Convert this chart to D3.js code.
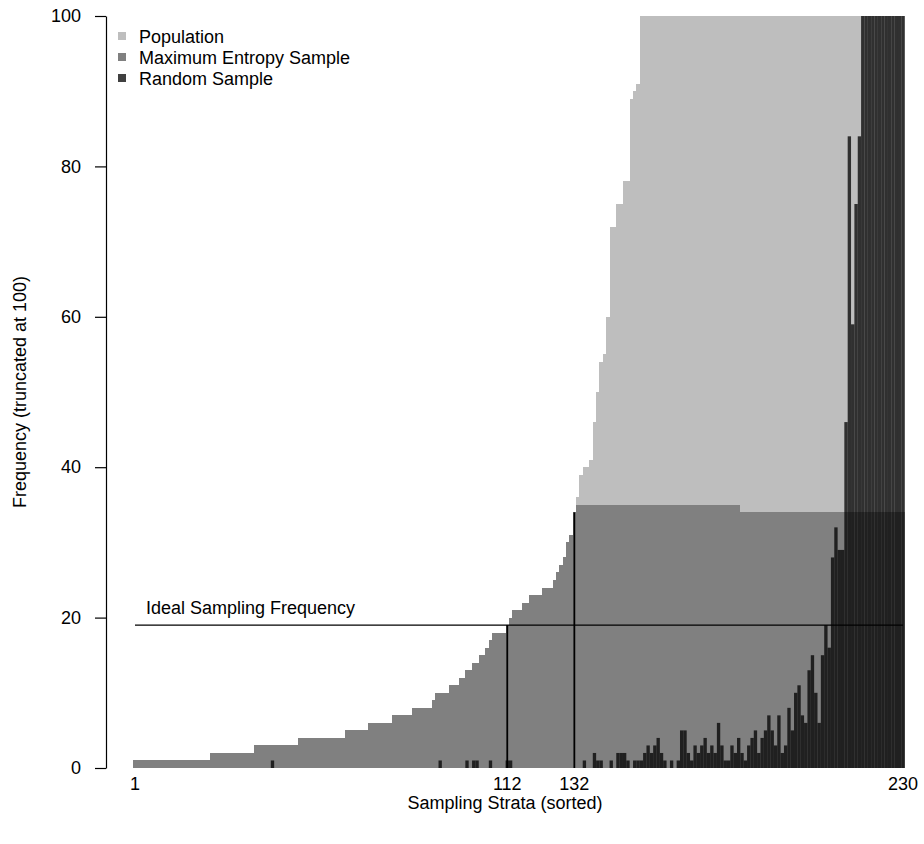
<!DOCTYPE html>
<html>
<head>
<meta charset="utf-8">
<script src="https://cdn.jsdelivr.net/npm/d3@7"></script>
<style>
  html, body { margin: 0; padding: 0; background: #fff; }
  svg { display: block; font-family: "Liberation Sans", Arial, Helvetica, sans-serif; }
</style>
</head>
<body>
<svg id="chart" width="924" height="844"></svg>
<script>
// ---------- data ----------
const strata = d3.range(1, 231);            // sampling strata 1..230 (sorted)

// Population frequency per stratum (truncated at 100)
const population = [
  1,1,1,1,1,1,1,1,1,1,
  1,1,1,1,1,1,1,1,1,1,
  1,1,1,2,2,2,2,2,2,2,
  2,2,2,2,2,2,3,3,3,3,
  3,3,3,3,3,3,3,3,3,4,
  4,4,4,4,4,4,4,4,4,4,
  4,4,4,5,5,5,5,5,5,5,
  6,6,6,6,6,6,6,7,7,7,
  7,7,7,8,8,8,8,8,8,9,
  10,10,10,10,11,11,11,12,12,13,
  13,14,14,15,15,16,17,18,18,18,
  18,19,20,21,21,21,22,22,23,23,
  23,23,24,24,24,25,26,27,28,30,
  31,34,36,39,40,40,41,46,50,54,
  55,60,72,72,75,75,78,78,89,90,
  91,100,100,100,100,100,100,100,100,100,
  100,100,100,100,100,100,100,100,100,100,
  100,100,100,100,100,100,100,100,100,100,
  100,100,100,100,100,100,100,100,100,100,
  100,100,100,100,100,100,100,100,100,100,
  100,100,100,100,100,100,100,100,100,100,
  100,100,100,100,100,100,100,100,100,100,
  100,100,100,100,100,100,100,100,100,100
];

// Maximum entropy sample per stratum
const maxEntropySample = [
  1,1,1,1,1,1,1,1,1,1,
  1,1,1,1,1,1,1,1,1,1,
  1,1,1,2,2,2,2,2,2,2,
  2,2,2,2,2,2,3,3,3,3,
  3,3,3,3,3,3,3,3,3,4,
  4,4,4,4,4,4,4,4,4,4,
  4,4,4,5,5,5,5,5,5,5,
  6,6,6,6,6,6,6,7,7,7,
  7,7,7,8,8,8,8,8,8,9,
  10,10,10,10,11,11,11,12,12,13,
  13,14,14,15,15,16,17,18,18,18,
  18,19,20,21,21,21,22,22,23,23,
  23,23,24,24,24,25,26,27,28,30,
  31,34,35,35,35,35,35,35,35,35,
  35,35,35,35,35,35,35,35,35,35,
  35,35,35,35,35,35,35,35,35,35,
  35,35,35,35,35,35,35,35,35,35,
  35,35,35,35,35,35,35,35,35,35,
  35,34,34,34,34,34,34,34,34,34,
  34,34,34,34,34,34,34,34,34,34,
  34,34,34,34,34,34,34,34,34,34,
  34,34,34,34,34,34,34,34,34,34,
  34,34,34,34,34,34,34,34,34,34
];

// Random sample per stratum (truncated at 100)
const randomSample = [
  0,0,0,0,0,0,0,0,0,0,
  0,0,0,0,0,0,0,0,0,0,
  0,0,0,0,0,0,0,0,0,0,
  0,0,0,0,0,0,0,0,0,0,
  0,1,0,0,0,0,0,0,0,0,
  0,0,0,0,0,0,0,0,0,0,
  0,0,0,0,0,0,0,0,0,0,
  0,0,0,0,0,0,0,0,0,0,
  0,0,0,0,0,0,0,0,0,0,
  0,1,0,0,0,0,0,0,0,1,
  0,1,1,0,0,0,1,0,0,0,
  0,1,1,0,0,0,0,0,0,0,
  0,0,0,0,0,0,0,0,0,0,
  0,0,0,0,1,0,0,2,1,1,
  0,0,1,0,2,2,2,1,0,1,
  1,1,2,3,2,3,4,2,1,0,
  1,0,1,5,5,2,1,3,2,3,
  4,2,3,2,6,3,1,1,3,2,
  4,2,1,3,4,5,2,4,5,7,
  5,3,7,2,3,8,5,10,11,7,
  6,13,15,10,6,15,19,16,28,32,
  29,29,46,84,59,75,84,100,100,100,
  100,100,100,100,100,100,100,100,100,100
];

const idealFrequency = 19;
const markedStrata = [112, 132];
const yTicks = [0, 20, 40, 60, 80, 100];
const xTickLabels = [1, 112, 132, 230];
const seriesNames = ["Population", "Maximum Entropy Sample", "Random Sample"];
const seriesColors = ["#bebebe", "#808080", "rgba(0,0,0,0.75)"];

// ---------- drawing ----------
const FS = 18;
const svg = d3.select("#chart");
const W = 924, H = 844;
svg.append("rect").attr("width", W).attr("height", H).attr("fill", "#fff");

const x = d3.scaleBand().domain(strata).range([133.3, 904.7]).padding(0);
const y = d3.scaleLinear().domain([0, 100]).range([768, 16]);
const cx = s => x(s) + x.bandwidth() / 2;

const rows = strata.map((s, i) => ({
  s, pop: Math.min(population[i], 100), me: maxEntropySample[i], rs: Math.min(randomSample[i], 100)
}));

// population
svg.append("g").attr("shape-rendering", "crispEdges")
  .selectAll("rect").data(rows).join("rect")
  .attr("x", d => x(d.s)).attr("width", x.bandwidth())
  .attr("y", d => y(d.pop)).attr("height", d => y(0) - y(d.pop))
  .attr("fill", seriesColors[0]);

// maximum entropy sample
svg.append("g").attr("shape-rendering", "crispEdges")
  .selectAll("rect").data(rows).join("rect")
  .attr("x", d => x(d.s)).attr("width", x.bandwidth())
  .attr("y", d => y(d.me)).attr("height", d => y(0) - y(d.me))
  .attr("fill", seriesColors[1]);

// random sample
svg.append("g")
  .selectAll("rect").data(rows.filter(d => d.rs > 0)).join("rect")
  .attr("x", d => x(d.s)).attr("width", x.bandwidth())
  .attr("y", d => y(d.rs)).attr("height", d => y(0) - y(d.rs))
  .attr("fill", seriesColors[2]);

// ideal sampling frequency line
svg.append("line")
  .attr("x1", cx(1)).attr("x2", cx(230))
  .attr("y1", y(idealFrequency)).attr("y2", y(idealFrequency))
  .attr("stroke", "#000").attr("stroke-width", 1.2);
svg.append("text")
  .attr("x", 146).attr("y", y(idealFrequency) - 11)
  .attr("font-size", FS).text("Ideal Sampling Frequency");

// vertical marks at strata 112 and 132
svg.append("g").selectAll("line").data(markedStrata).join("line")
  .attr("x1", d => cx(d)).attr("x2", d => cx(d))
  .attr("y1", y(0)).attr("y2", d => y(population[d - 1]))
  .attr("stroke", "#000").attr("stroke-width", 1.8);

// y axis
const yAxis = svg.append("g").attr("transform", "translate(106,0)")
  .call(d3.axisLeft(y).tickValues(yTicks).tickSize(11).tickSizeOuter(0).tickPadding(14));
yAxis.selectAll("text").attr("font-size", FS).attr("fill", "#000")
  .attr("font-family", "'Liberation Sans', Arial, sans-serif");
yAxis.selectAll("line,path").attr("stroke", "#000").attr("stroke-width", 1.2);

// x tick labels
svg.append("g").selectAll("text").data(xTickLabels).join("text")
  .attr("x", d => cx(d)).attr("y", 790)
  .attr("text-anchor", "middle").attr("font-size", FS)
  .text(d => d);

// axis titles
svg.append("text").attr("x", 505).attr("y", 809)
  .attr("text-anchor", "middle").attr("font-size", FS)
  .text("Sampling Strata (sorted)");
svg.append("text")
  .attr("transform", "translate(26,392) rotate(-90)")
  .attr("text-anchor", "middle").attr("font-size", FS)
  .text("Frequency (truncated at 100)");

// legend
const legend = svg.append("g");
seriesNames.forEach((name, i) => {
  const ly = 36 + i * 21;
  legend.append("rect").attr("x", 118).attr("y", ly - 4).attr("width", 8).attr("height", 8)
    .attr("fill", seriesColors[i]);
  legend.append("text").attr("x", 139).attr("y", ly + 7)
    .attr("font-size", FS).text(name);
});
</script>
</body>
</html>
